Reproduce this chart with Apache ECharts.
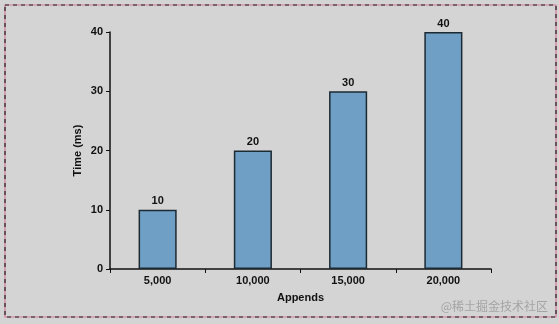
<!DOCTYPE html>
<html><head><meta charset="utf-8">
<script src="https://cdn.jsdelivr.net/npm/echarts@6/dist/echarts.min.js"></script>
<style>html,body{margin:0;padding:0;background:#d4d4d4;}#c{width:559px;height:324px;}</style>
</head><body><div id="c"></div>
<script>
var categories = ['5,000', '10,000', '15,000', '20,000'];
var times = [10, 20, 30, 40];
var yTicks = [0, 10, 20, 30, 40];
var FONT = '"Liberation Sans", Arial, sans-serif';
var chart = echarts.init(document.getElementById('c'), null, {renderer: 'canvas'});
chart.setOption({
  backgroundColor: '#d4d4d4',
  animation: false,
  grid: {left: 110, right: 68, top: 32, bottom: 55},
  xAxis: {
    type: 'category', data: categories,
    name: 'Appends', nameLocation: 'middle', nameGap: 23,
    nameTextStyle: {fontFamily: FONT, fontWeight: 'bold', fontSize: 11, color: '#111'},
    axisLine: {lineStyle: {color: '#111', width: 1.5}},
    axisTick: {show: true, length: 4, lineStyle: {color: '#111'}, alignWithLabel: false},
    axisLabel: {fontFamily: FONT, fontWeight: 'bold', fontSize: 11, color: '#111', margin: 6}
  },
  yAxis: {
    type: 'value', min: yTicks[0], max: yTicks[yTicks.length - 1], interval: 10,
    name: 'Time (ms)', nameLocation: 'middle', nameGap: 27, nameMoveOverlap: false,
    nameTextStyle: {fontFamily: FONT, fontWeight: 'bold', fontSize: 11, color: '#111'},
    axisLine: {show: true, lineStyle: {color: '#111', width: 1.5}},
    axisTick: {show: true, length: 4, lineStyle: {color: '#111'}},
    splitLine: {show: false},
    axisLabel: {fontFamily: FONT, fontWeight: 'bold', fontSize: 11, color: '#111', margin: 7}
  },
  series: [{
    type: 'bar', data: times, barWidth: '40%',
    itemStyle: {color: '#6f9fc4', borderColor: '#1c2a33', borderWidth: 1.5},
    label: {show: true, position: 'top', distance: 3, fontFamily: FONT, fontWeight: 'bold', fontSize: 11, color: '#111'}
  }],
  graphic: [
    {type: 'rect', shape: {x: 5, y: 5, width: 551, height: 312}, style: {fill: null, stroke: '#d07898', lineWidth: 1.2}},
    {type: 'rect', shape: {x: 5, y: 5, width: 551, height: 312}, style: {fill: null, stroke: '#222', lineWidth: 1.2, lineDash: [4, 4]}},
    {type: 'text', right: 11, bottom: 12, style: {text: '@稀土掘金技术社区', fill: '#a4a4a4', font: '12px "Noto Sans CJK SC", sans-serif'}}
  ]
});
</script></body></html>
